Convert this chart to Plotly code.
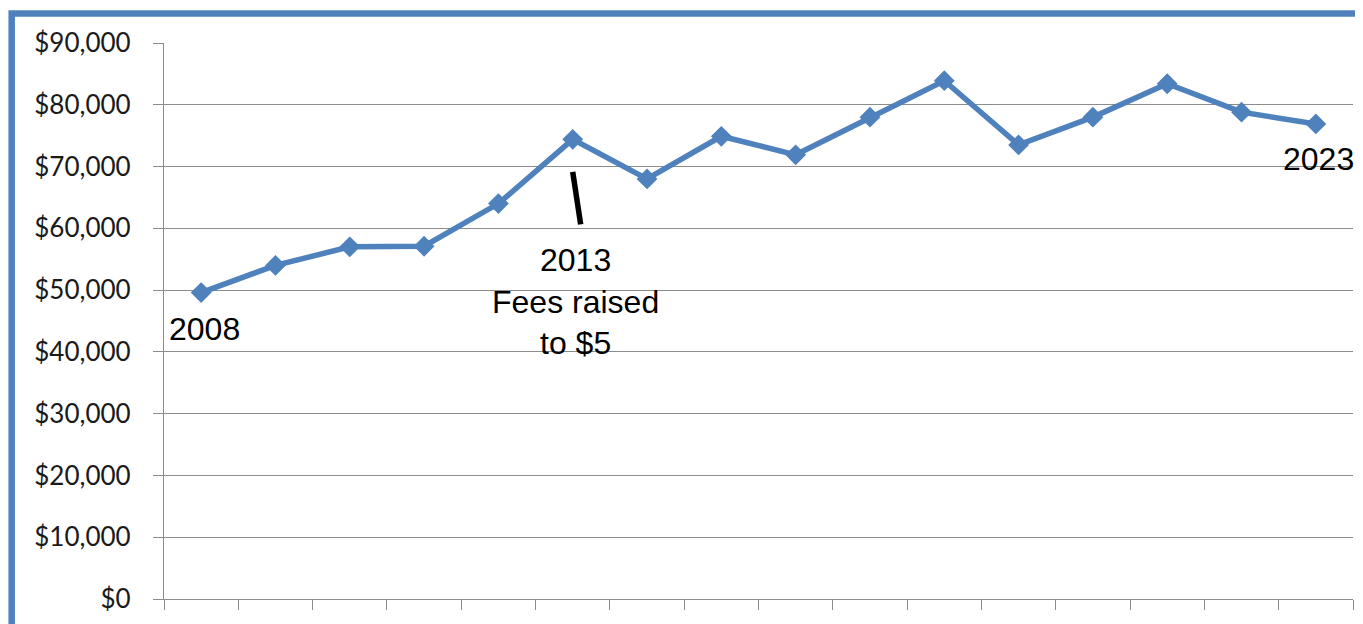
import plotly.graph_objects as go

years = [str(y) for y in range(2008, 2024)]
revenue = [49600, 54000, 57000, 57100, 64000, 74400, 68000, 74900,
           71900, 78000, 83900, 73500, 78000, 83400, 78800, 76900]
y_ticks = [0, 10000, 20000, 30000, 40000, 50000, 60000, 70000, 80000, 90000]

BLUE = "#4F81BD"
GRID = "#8c8c8c"
NARROW = "Liberation Sans Narrow, Arial Narrow, Liberation Sans, sans-serif"

# page body has an 8px margin; figure origin sits at (8, 8)
W, H = 1355, 616

fig = go.Figure()
fig.add_trace(go.Scatter(
    x=years, y=revenue, mode="lines+markers",
    line=dict(color=BLUE, width=5.5),
    marker=dict(symbol="diamond", size=16, color=BLUE),
    showlegend=False, hoverinfo="x+y",
))

L, R, T, B = 156, 10, 35, 20
pw = W - L - R
ph = H - T - B
bx = (3.7 - L) / pw
by = 1 + (T - 5.3) / ph

fig.update_layout(
    width=W, height=H,
    margin=dict(l=L, r=R, t=T, b=B),
    paper_bgcolor="white", plot_bgcolor="white",
    xaxis=dict(
        type="category", range=[-0.5, 15.5],
        showgrid=False, showticklabels=False,
        ticks="outside", tickson="boundaries", ticklen=10,
        tickcolor=GRID, tickwidth=1.3,
        showline=True, linecolor=GRID, linewidth=1.3,
        zeroline=False,
    ),
    yaxis=dict(
        range=[0, 90000], tickvals=y_ticks, tickformat="$,.0f",
        showgrid=True, gridcolor=GRID, gridwidth=1.3,
        ticks="outside", ticklen=10, tickcolor=GRID, tickwidth=1.3,
        showline=True, linecolor=GRID, linewidth=1.3,
        zeroline=False,
        tickfont=dict(family="Lato, Open Sans, sans-serif", size=26, color="#1a1a1a"),
        ticklabelstandoff=17,
    ),
    shapes=[
        dict(type="path", xref="paper", yref="paper",
             path=f"M {bx:.4f} -0.2 L {bx:.4f} {by:.4f} L 1.2 {by:.4f}",
             line=dict(color=BLUE, width=6.5)),
        dict(type="line", xref="x", yref="y",
             x0=5.0, y0=69150, x1=5.107, y1=60650,
             line=dict(color="black", width=5.5)),
    ],
    annotations=[
        dict(x=0, y=43640, xref="x", yref="y", text="2008", showarrow=False,
             xshift=3, font=dict(family=NARROW, size=32, color="black")),
        dict(x=5, y=48130, xref="x", yref="y",
             text="2013<br>Fees raised<br>to $5",
             showarrow=False, xshift=3,
             font=dict(family=NARROW, size=32, color="black")),
        dict(x=15, y=71150, xref="x", yref="y", text="2023", showarrow=False,
             xshift=3, font=dict(family=NARROW, size=32, color="black")),
    ],
)

fig.write_html("out.html")
